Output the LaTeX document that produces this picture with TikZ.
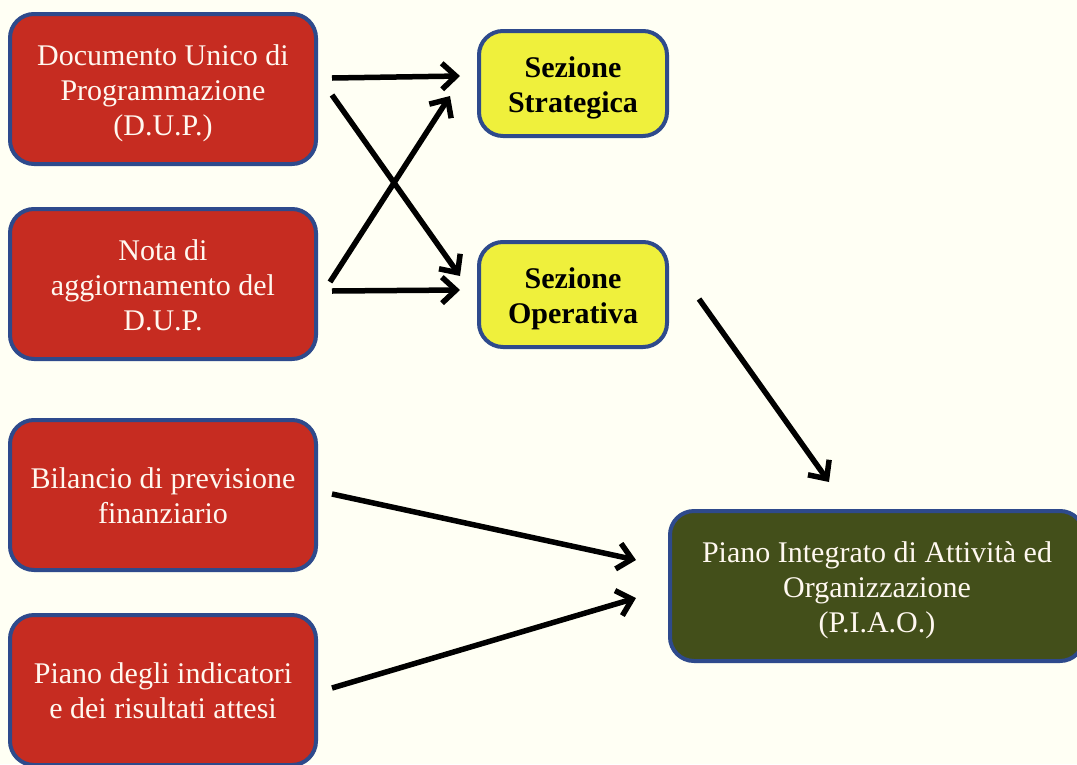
\documentclass[tikz,border=0pt]{standalone}
\usepackage{fontspec}
\setmainfont{Liberation Serif}
\usetikzlibrary{arrows.meta}
\definecolor{bg}{HTML}{FFFFF4}
\definecolor{bordblue}{HTML}{2E4A8C}
\definecolor{boxred}{HTML}{C62C21}
\definecolor{boxyellow}{HTML}{EFF03C}
\definecolor{boxolive}{HTML}{434F1A}
\definecolor{txtwhite}{HTML}{FFF8F0}
\newcommand{\lowtxt}[1]{\raisebox{-4pt}[\height][\depth]{\begin{tabular}{@{}c@{}}#1\end{tabular}}}
\tikzset{
  basebox/.style={rectangle, rounded corners=24pt, draw=bordblue, line width=4pt,
    inner sep=0pt, font=\fontsize{30}{35}\selectfont},
  redbox/.style={basebox, fill=boxred, text=txtwhite, minimum width=306pt, minimum height=150pt},
  yelbox/.style={basebox, fill=boxyellow, text=black, minimum width=188pt, minimum height=105pt,
    font=\fontsize{30}{35}\selectfont\bfseries},
  olivebox/.style={basebox, fill=boxolive, text=txtwhite, minimum width=414pt, minimum height=150pt},
  arr/.style={line width=5.5pt, -{Straight Barb[length=14pt,width=26pt]}}
}
\begin{document}
\begin{tikzpicture}[x=1pt,y=-1pt]
\fill[bg] (0,0) rectangle (1077,764);
\useasboundingbox (0,0) rectangle (1077,764);
\begin{scope}
\clip (0,0) rectangle (1077,764);
\node[redbox] (dup) at (163,89) {\lowtxt{Documento Unico di\\Programmazione\\(D.U.P.)}};
\node[redbox] (nota) at (163,284) {\lowtxt{Nota di\\aggiornamento del\\D.U.P.}};
\node[redbox] (bil) at (163,495) {\lowtxt{Bilancio di previsione\\finanziario}};
\node[redbox] (pia) at (163,690) {\lowtxt{Piano degli indicatori\\e dei risultati attesi}};
\node[yelbox] (ss) at (573,83.5) {\lowtxt{Sezione\\Strategica}};
\node[yelbox] (so) at (573,294.5) {\lowtxt{Sezione\\Operativa}};
\node[olivebox] (piao) at (877,586) {\lowtxt{Piano Integrato di Attività ed\\Organizzazione\\(P.I.A.O.)}};

\draw[arr] ([shift={(14,-11)}]dup.east) -- ([shift={(-17,-7.5)}]ss.west);
\draw[arr] ([shift={(14,6)}]dup.east) -- ([shift={(-17,-18.5)}]so.west);
\draw[arr] ([shift={(12,-2)}]nota.east) -- ([shift={(-27,12.5)}]ss.west);
\draw[arr] ([shift={(14,7)}]nota.east) -- ([shift={(-17,-4.5)}]so.west);
\draw[arr] ([shift={(30,4.5)}]so.east) -- ([shift={(-48,-27)}]piao.north);
\draw[arr] ([shift={(14,-1)}]bil.east) -- ([shift={(-32,-26)}]piao.west);
\draw[arr] ([shift={(14,-2)}]pia.east) -- ([shift={(-32,12)}]piao.west);
\end{scope}
\end{tikzpicture}
\end{document}
